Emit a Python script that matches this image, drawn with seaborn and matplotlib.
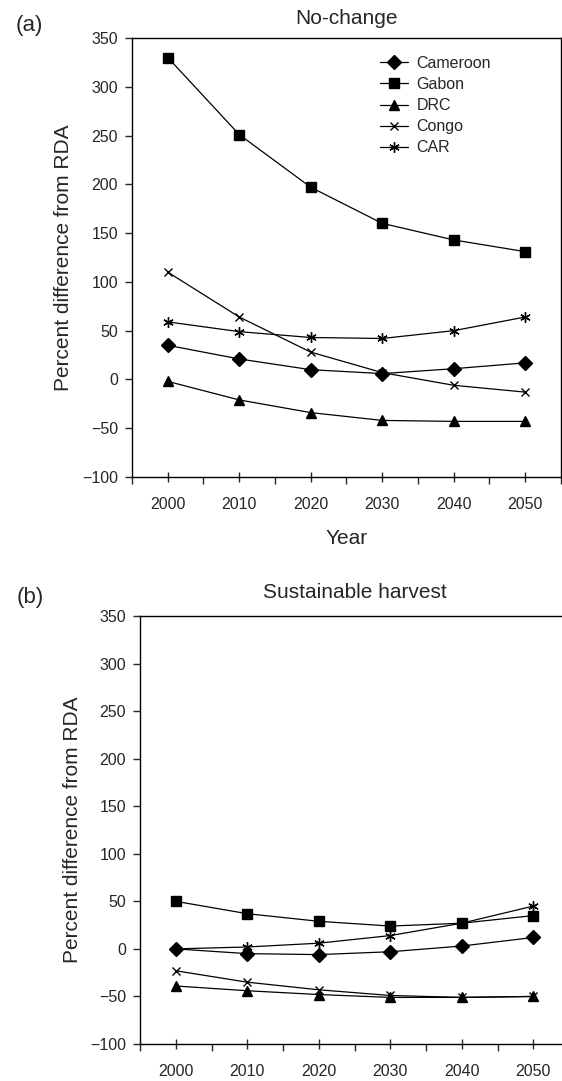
import pandas as pd
import seaborn as sns
import matplotlib.pyplot as plt
from matplotlib.ticker import MultipleLocator

# data (percent difference from RDA)
years = [2000, 2010, 2020, 2030, 2040, 2050]
countries = ["Cameroon", "Gabon", "DRC", "Congo", "CAR"]

no_change_cameroon = [35, 21, 10, 6, 11, 17]
no_change_gabon = [330, 251, 197, 160, 143, 131]
no_change_drc = [-2, -21, -34, -42, -43, -43]
no_change_congo = [110, 64, 28, 7, -6, -13]
no_change_car = [59, 49, 43, 42, 50, 64]

harvest_cameroon = [0, -5, -6, -3, 3, 12]
harvest_gabon = [50, 37, 29, 24, 27, 35]
harvest_drc = [-39, -44, -48, -51, -51, -50]
harvest_congo = [-23, -35, -43, -49, -51, -50]
harvest_car = [0, 2, 6, 14, 27, 45]

panel_titles = ["No-change", "Sustainable harvest"]
panel_letters = ["(a)", "(b)"]

markers = {"Cameroon": "D", "Gabon": "s", "DRC": "^", "Congo": "x", "CAR": (6, 2, 0)}
msizes = {"Cameroon": 7, "Gabon": 6.8, "DRC": 7, "Congo": 5.5, "CAR": 7.5}


def to_long(series):
    rows = []
    for name, vals in zip(countries, series):
        for yr, v in zip(years, vals):
            rows.append({"Year": yr, "Country": name, "Value": v})
    return pd.DataFrame(rows)


df_a = to_long([no_change_cameroon, no_change_gabon, no_change_drc, no_change_congo, no_change_car])
df_b = to_long([harvest_cameroon, harvest_gabon, harvest_drc, harvest_congo, harvest_car])

sns.set_style("ticks")
plt.rcParams["font.family"] = ["Liberation Sans", "DejaVu Sans"]

W, H = 562, 1081
fig = plt.figure(figsize=(W / 100, H / 100), dpi=100)

# axes boxes in pixels: left, top, right, bottom
boxes = [(132, 38, 561, 477), (140, 616, 569, 1044)]
ylabel_right = [73, 82]
title_y = [18, 592]
letter_pos = [(29, 25), (30, 597)]

axes = []
for (l, t, r, b) in boxes:
    ax = fig.add_axes([l / W, 1 - b / H, (r - l) / W, (b - t) / H])
    axes.append(ax)

for i, (ax, df) in enumerate(zip(axes, [df_a, df_b])):
    l, t, r, b = boxes[i]
    for name in countries:
        sub = df[df["Country"] == name]
        sns.lineplot(data=sub, x="Year", y="Value", ax=ax, color="black",
                     linewidth=0.9, marker=markers[name], markersize=msizes[name],
                     markeredgecolor="black", markerfacecolor="black",
                     markeredgewidth=1.0, label=name, legend=False)
    ax.set_xlim(1995, 2055)
    ax.set_ylim(-100, 350)
    ax.yaxis.set_major_locator(MultipleLocator(50))
    ax.set_xticks(years)
    ax.xaxis.set_minor_locator(MultipleLocator(5))
    ax.tick_params(axis="x", which="major", direction="inout", length=7, width=1,
                   pad=11, labelsize=11.5)
    ax.tick_params(axis="x", which="minor", direction="out", length=5, width=1)
    ax.tick_params(axis="y", which="major", direction="out", length=5, width=1,
                   pad=5, labelsize=11.5)
    ax.set_yticklabels([str(int(v)).replace("-", "\u2212") for v in ax.get_yticks()])
    for s in ax.spines.values():
        s.set_linewidth(1.0)
        s.set_color("black")
    ax.set_xlabel("")
    ax.set_ylabel("Percent difference from RDA", fontsize=15)
    ax.yaxis.set_label_coords((ylabel_right[i] - l) / (r - l), 0.5)
    fig.text((l + r) / 2 / W, 1 - title_y[i] / H, panel_titles[i],
             ha="center", va="center", fontsize=15)
    fig.text(letter_pos[i][0] / W, 1 - letter_pos[i][1] / H, panel_letters[i],
             ha="center", va="center", fontsize=16)

axes[0].legend(loc="upper left", bbox_to_anchor=(380 / W, 1 - 56 / H),
               bbox_transform=fig.transFigure, frameon=False, fontsize=11.5,
               handlelength=1.75, handletextpad=0.55, labelspacing=0.38,
               borderpad=0, borderaxespad=0)

fig.text((132 + 561) / 2 / W, 1 - 538 / H, "Year", ha="center", va="center", fontsize=15)

fig.savefig("out.png", dpi=100)
